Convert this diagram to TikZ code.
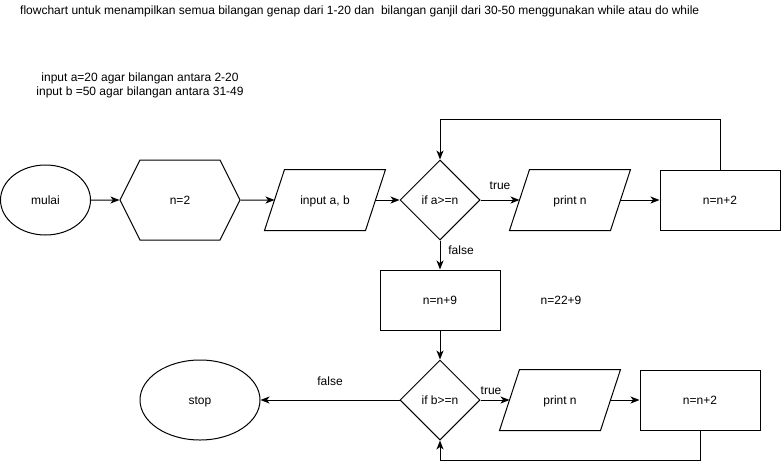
\documentclass[tikz,border=0pt]{standalone}
\usepackage{fontspec}
\setmainfont{Liberation Sans}
\usetikzlibrary{shapes.geometric,shapes.symbols,arrows.meta}
\tikzset{
  box/.style={draw,line width=1pt,inner sep=0pt,text height=9pt,text depth=1pt,
    font=\fontsize{12}{14}\selectfont},
  terminal/.style={box,ellipse},
  process/.style={box,rectangle,minimum width=120pt,minimum height=60pt},
  prep/.style={box,signal,signal to=east and west,signal pointer angle=126.87,
    minimum width=120pt,minimum height=80pt},
  io/.style={box,draw=none,rectangle,minimum width=100pt,minimum height=60pt},
  decision/.style={box,diamond,aspect=1,minimum width=80pt,minimum height=80pt},
  txt/.style={inner sep=0pt,font=\fontsize{12}{14}\selectfont},
  flow/.style={line width=1pt,-{Stealth[length=9pt,width=7pt,inset=2.5pt]}}
}
\begin{document}
\begin{tikzpicture}[x=1pt,y=-1pt]
\useasboundingbox (0,0) rectangle (781,469);
% header and notes
\node[txt,anchor=west] (title) at (20,11) {flowchart untuk menampilkan semua bilangan genap dari 1-20 dan\ \ bilangan ganjil dari 30-50 menggunakan while atau do while};
\node[txt,align=center] (note) at (140,85) {input a=20 agar bilangan antara 2-20\\input b =50 agar bilangan antara 31-49};
\node[txt] (note2) at (561,300) {n=22+9};
% first loop
\node[terminal,minimum width=90pt,minimum height=70pt] (mulai) at (45.5,200) {mulai};
\node[prep] (init) at (180,200) {n=2};
\node[io] (input) at (325,200) {input a, b};
\node[decision] (ifa) at (440,200) {if a>=n};
\node[io] (printa) at (570,200) {print n};
\node[process] (inca) at (720,200) {n=n+2};
% second loop
\node[process] (add) at (440,300) {n=n+9};
\node[decision] (ifb) at (440,400) {if b>=n};
\node[terminal,minimum width=120pt,minimum height=80pt] (stop) at (200,400) {stop};
\node[io] (printb) at (560,400) {print n};
\node[process] (incb) at (700,400) {n=n+2};
% parallelogram outlines
\foreach \p in {input,printa,printb} {
  \draw[line width=1pt,line join=miter] ([xshift=10pt]\p.north west) -- ([xshift=10pt]\p.north east)
    -- ([xshift=-10pt]\p.south east) -- ([xshift=-10pt]\p.south west) -- cycle;
}
% labels
\node[txt] (truea) at (500,186) {true};
\node[txt] (falsea) at (461,250) {false};
\node[txt] (falseb) at (330,381) {false};
\node[txt] (trueb) at (491,391) {true};
% connectors
\draw[flow] (mulai) -- (init);
\draw[flow] (init) -- (input);
\draw[flow] (input) -- (ifa);
\draw[flow] (ifa) -- (printa);
\draw[flow] (printa) -- (inca);
\draw[flow] (inca.north) -- ++(0,-50) -| (ifa.north);
\draw[flow] (ifa) -- (add);
\draw[flow] (add) -- (ifb);
\draw[flow] (ifb) -- (stop);
\draw[flow] (ifb) -- (printb);
\draw[flow] (printb) -- (incb);
\draw[flow] (incb.south) -- ++(0,30) -| (ifb.south);
\end{tikzpicture}
\end{document}
